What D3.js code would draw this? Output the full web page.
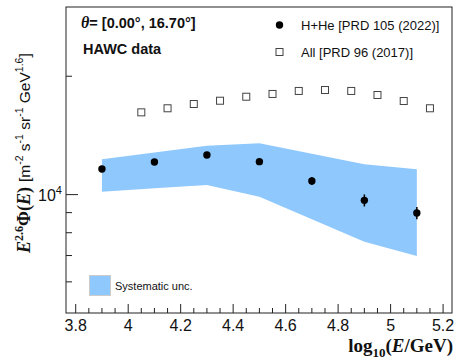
<!DOCTYPE html>
<html>
<head>
<meta charset="utf-8">
<script src="https://cdn.jsdelivr.net/npm/d3@7"></script>
<style>
  body { margin: 0; background: #fff; }
  svg { display: block; }
  .sans { font-family: "Liberation Sans", Arial, sans-serif; }
  .serif { font-family: "Liberation Serif", "Times New Roman", serif; }
</style>
</head>
<body>
<svg id="chart" width="457" height="361"></svg>
<script>
//#region DATA /////////////////////////////////////////////////////////////////

// H+He spectrum [PRD 105 (2022)], E^2.6 * flux
const energies = [3.9, 4.1, 4.3, 4.5, 4.7, 4.9, 5.1];
const hHeFlux  = [11620, 12100, 12610, 12130, 10830, 9670, 8980];
const hHeErr   = [120, 120, 130, 150, 250, 340, 320];

// systematic band around H+He
const sysLow  = [10170, 10380, 10580, 9880, 8660, 7590, 6980];
const sysHigh = [12300, 12800, 13320, 13500, 12700, 11940, 11600];

// all-particle spectrum [PRD 96 (2017)]
const allEnergies = [4.05, 4.15, 4.25, 4.35, 4.45, 4.55, 4.65, 4.75, 4.85, 4.95, 5.05, 5.15];
const allFlux     = [16190, 16580, 17000, 17330, 17740, 18030, 18350, 18450, 18350, 17920, 17300, 16580];

const xTicks = [3.8, 4.0, 4.2, 4.4, 4.6, 4.8, 5.0, 5.2];
const yMinorTicks = [6000, 7000, 8000, 9000, 20000];

//#endregion

//#region LAYOUT ///////////////////////////////////////////////////////////////

const FRAME_LEFT = 66, FRAME_RIGHT = 452, FRAME_TOP = 7, FRAME_BOTTOM = 313;
const BAND_COLOR = "#8fc8fc";

const svg = d3.select("#chart");

const x = d3.scaleLinear().domain([3.763, 5.234]).range([FRAME_LEFT, FRAME_RIGHT]);
const y = d3.scaleLog().domain([5000, 30000]).range([FRAME_BOTTOM, FRAME_TOP]);

//#endregion

//#region MARKS ////////////////////////////////////////////////////////////////

// systematic band
let band = d3.area()
    .x((_d, i) => x(energies[i]))
    .y0((_d, i) => y(sysLow[i]))
    .y1((_d, i) => y(sysHigh[i]));
svg.append("path").attr("d", band(energies)).attr("fill", BAND_COLOR);

// all-particle open squares
svg.append("g").selectAll("rect").data(allEnergies).enter().append("rect")
    .attr("x", d => x(d) - 3.5)
    .attr("y", (_d, i) => y(allFlux[i]) - 3.5)
    .attr("width", 7).attr("height", 7)
    .attr("fill", "none").attr("stroke", "#444").attr("stroke-width", 1);

// H+He points with stat errors
let pts = svg.append("g");
pts.selectAll("line").data(energies).enter().append("line")
    .attr("x1", d => x(d)).attr("x2", d => x(d))
    .attr("y1", (_d, i) => y(hHeFlux[i] + hHeErr[i]))
    .attr("y2", (_d, i) => y(hHeFlux[i] - hHeErr[i]))
    .attr("stroke", "#000").attr("stroke-width", 1.5);
pts.selectAll("circle").data(energies).enter().append("circle")
    .attr("cx", d => x(d))
    .attr("cy", (_d, i) => y(hHeFlux[i]))
    .attr("r", 3.7).attr("fill", "#000");

//#endregion

//#region AXES /////////////////////////////////////////////////////////////////

// frame
svg.append("rect")
    .attr("x", FRAME_LEFT).attr("y", FRAME_TOP)
    .attr("width", FRAME_RIGHT - FRAME_LEFT).attr("height", FRAME_BOTTOM - FRAME_TOP)
    .attr("fill", "none").attr("stroke", "#222").attr("stroke-width", 1);

// x ticks (drawn inside like ROOT)
let xMinor = d3.range(3.8, 5.2001, 0.05).filter(v => v < 5.234);
let xAxis = svg.append("g").attr("stroke", "#222");
xAxis.selectAll("line").data(xMinor).enter().append("line")
    .attr("x1", d => x(d)).attr("x2", d => x(d))
    .attr("y1", FRAME_BOTTOM)
    .attr("y2", d => FRAME_BOTTOM - (Math.abs(d * 5 - Math.round(d * 5)) < 1e-6 ? 9 : 5));
svg.append("g").selectAll("text").data(xTicks).enter().append("text")
    .attr("class", "sans")
    .attr("x", d => x(d)).attr("y", 331)
    .attr("text-anchor", "middle").attr("font-size", 16).attr("fill", "#111")
    .text(d => d3.format("~g")(d));

// y ticks
let yAxis = svg.append("g").attr("stroke", "#222");
yAxis.append("line")
    .attr("x1", FRAME_LEFT).attr("x2", FRAME_LEFT + 12)
    .attr("y1", y(10000)).attr("y2", y(10000));
yAxis.selectAll("line.minor").data(yMinorTicks).enter().append("line")
    .attr("class", "minor")
    .attr("x1", FRAME_LEFT).attr("x2", FRAME_LEFT + 6)
    .attr("y1", d => y(d)).attr("y2", d => y(d));
let yLab = svg.append("text").attr("class", "sans").attr("font-size", 16).attr("fill", "#111")
    .attr("x", 38).attr("y", y(10000) + 6);
yLab.append("tspan").text("10");
yLab.append("tspan").attr("font-size", 11).attr("dy", -7).text("4");

// x title
let xt = svg.append("text").attr("class", "serif").attr("font-weight", "bold")
    .attr("font-size", 19).attr("text-anchor", "end").attr("fill", "#111")
    .attr("x", 453).attr("y", 352);
xt.append("tspan").text("log");
xt.append("tspan").attr("font-size", 13).attr("dy", 5).text("10");
xt.append("tspan").attr("dy", -5).text("(");
xt.append("tspan").attr("font-style", "italic").text("E");
xt.append("tspan").text("/GeV)");

// y title, rotated
let yt = svg.append("text").attr("fill", "#111")
    .attr("transform", "translate(30,253) rotate(-90)");
yt.append("tspan").attr("class", "serif").attr("font-weight", "bold").attr("font-style", "italic")
    .attr("font-size", 18).text("E");
yt.append("tspan").attr("class", "serif").attr("font-weight", "bold")
    .attr("font-size", 12).attr("dy", -7).text("2.6");
yt.append("tspan").attr("class", "serif").attr("font-weight", "bold")
    .attr("font-size", 18).attr("dy", 7).text("\u03A6(");
yt.append("tspan").attr("class", "serif").attr("font-weight", "bold").attr("font-style", "italic")
    .attr("font-size", 18).text("E");
yt.append("tspan").attr("class", "serif").attr("font-weight", "bold")
    .attr("font-size", 18).text(")");
// unit parts: base text then raised exponent; each base drops back down
let unit = [["[m", "-2"], [" s", "-1"], [" sr", "-1"], [" GeV", "1.6"]];
unit.forEach(([base, sup], i) =>
{
  yt.append("tspan").attr("class", "sans").attr("font-size", 15.5)
      .attr("dx", i == 0 ? 5 : 0).attr("dy", i == 0 ? 0 : 7).text(base);
  yt.append("tspan").attr("class", "sans").attr("font-size", 10.5).attr("dy", -7).text(sup);
});
yt.append("tspan").attr("class", "sans").attr("font-size", 15.5).attr("dy", 7).text("]");

//#endregion

//#region LABELS & LEGEND //////////////////////////////////////////////////////

let th = svg.append("text").attr("class", "sans").attr("font-weight", "bold")
    .attr("font-size", 14.5).attr("fill", "#111").attr("x", 81).attr("y", 28);
th.append("tspan").attr("class", "serif").attr("font-style", "italic").attr("font-size", 16).text("\u03B8");
th.append("tspan").text("= [0.00\u00B0, 16.70\u00B0]");

svg.append("text").attr("class", "sans").attr("font-weight", "bold")
    .attr("font-size", 14.5).attr("fill", "#111").attr("x", 83).attr("y", 54)
    .text("HAWC data");

// legend top right
svg.append("circle").attr("cx", 279.5).attr("cy", 25).attr("r", 3.7).attr("fill", "#000");
svg.append("text").attr("class", "sans").attr("font-size", 13).attr("fill", "#111")
    .attr("x", 301).attr("y", 30).text("H+He [PRD 105 (2022)]");
svg.append("rect").attr("x", 276).attr("y", 48.5).attr("width", 7).attr("height", 7)
    .attr("fill", "none").attr("stroke", "#444");
svg.append("text").attr("class", "sans").attr("font-size", 13).attr("fill", "#111")
    .attr("x", 301).attr("y", 57).text("All [PRD 96 (2017)]");

// legend bottom left
svg.append("rect").attr("x", 89.5).attr("y", 275.5).attr("width", 21).attr("height", 20)
    .attr("fill", BAND_COLOR).attr("stroke", "#ccc");
svg.append("text").attr("class", "sans").attr("font-size", 11).attr("fill", "#111")
    .attr("x", 115).attr("y", 290).text("Systematic unc.");

//#endregion
</script>
</body>
</html>
